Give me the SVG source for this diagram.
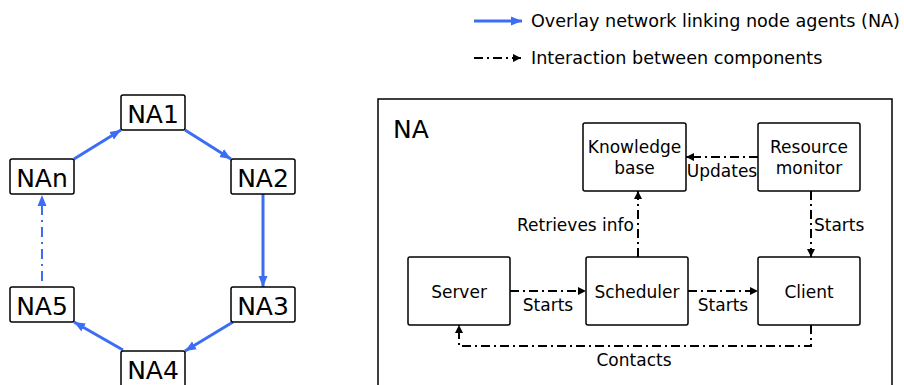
<svg xmlns="http://www.w3.org/2000/svg" width="904" height="385" viewBox="0 0 904 385">
<defs>
<style>
text{font-family:"DejaVu Sans","Liberation Sans",sans-serif;fill:#000}
.ring rect{fill:#fff;stroke:#000;stroke-width:1.5}
.ring text{font-size:25px;text-anchor:middle}
.comp rect{fill:#fff;stroke:#000;stroke-width:1.5}
.comp text{font-size:17px;text-anchor:middle}
.blue{stroke:#3b6ef5;stroke-width:3;fill:none}
.bluedd{stroke:#3b6ef5;stroke-width:2;fill:none;stroke-dasharray:10,5,2,5}
.dd{stroke:#000;stroke-width:2;fill:none;stroke-dasharray:9,4,2,4}
.lbl{font-size:17px}
.leg{font-size:17.6px}
</style>
<marker id="ab" markerUnits="userSpaceOnUse" markerWidth="12" markerHeight="10" refX="11" refY="5" orient="auto"><path d="M0,0.5 L11,5 L0,9.5 z" fill="#3b6ef5"/></marker>
<marker id="ak" markerUnits="userSpaceOnUse" markerWidth="9" markerHeight="8" refX="8" refY="4" orient="auto"><path d="M0,0 L8,4 L0,8 z" fill="#000"/></marker>
</defs>

<g id="legend">
<line class="blue" x1="474" y1="21" x2="522" y2="21" marker-end="url(#ab)"/>
<text class="leg" x="531" y="27">Overlay network linking node agents (NA)</text>
<line class="dd" x1="474" y1="58" x2="521" y2="58" marker-end="url(#ak)"/>
<text class="leg" x="531" y="64">Interaction between components</text>
</g>

<g id="ring-connectors">
<line class="blue" x1="74" y1="159" x2="121" y2="130" marker-end="url(#ab)"/>
<line class="blue" x1="185" y1="130" x2="231" y2="159" marker-end="url(#ab)"/>
<line class="blue" x1="263" y1="194" x2="263" y2="287" marker-end="url(#ab)"/>
<line class="blue" x1="233" y1="322" x2="185" y2="351" marker-end="url(#ab)"/>
<line class="blue" x1="123" y1="350" x2="74" y2="322" marker-end="url(#ab)"/>
<line class="bluedd" x1="42" y1="281" x2="42" y2="195" marker-end="url(#ab)"/>
</g>

<g class="ring">
<g id="NA1"><rect x="121" y="95" width="64" height="35" rx="2"/><text x="153" y="123">NA1</text></g>
<g id="NA2"><rect x="231" y="159" width="64" height="35" rx="2"/><text x="263" y="187">NA2</text></g>
<g id="NAn"><rect x="10" y="159" width="64" height="35" rx="2"/><text x="42" y="187">NAn</text></g>
<g id="NA3"><rect x="231" y="287" width="64" height="35" rx="2"/><text x="263" y="315">NA3</text></g>
<g id="NA5"><rect x="10" y="287" width="64" height="35" rx="2"/><text x="42" y="315">NA5</text></g>
<g id="NA4"><rect x="121" y="351" width="64" height="36" rx="2"/><text x="153" y="379">NA4</text></g>
</g>

<g id="NA-panel">
<rect x="378" y="99" width="514" height="290" fill="#fff" stroke="#000" stroke-width="1.5"/>
<text x="393" y="138" font-size="25">NA</text>
</g>

<g id="connectors">
<line class="dd" x1="758" y1="157" x2="686" y2="157" marker-end="url(#ak)"/>
<text class="lbl" x="722" y="177" text-anchor="middle">Updates</text>
<line class="dd" x1="638" y1="257" x2="638" y2="191" marker-end="url(#ak)"/>
<text class="lbl" x="634" y="231" text-anchor="end">Retrieves info</text>
<line class="dd" x1="811" y1="191" x2="811" y2="257" marker-end="url(#ak)"/>
<text class="lbl" x="814" y="231">Starts</text>
<line class="dd" x1="510" y1="291" x2="586" y2="291" marker-end="url(#ak)"/>
<text class="lbl" x="548" y="311" text-anchor="middle">Starts</text>
<line class="dd" x1="688" y1="291" x2="758" y2="291" marker-end="url(#ak)"/>
<text class="lbl" x="723" y="311" text-anchor="middle">Starts</text>
<polyline class="dd" points="811,325 811,346 459,346 459,325" marker-end="url(#ak)"/>
<text class="lbl" x="634" y="366" text-anchor="middle">Contacts</text>
</g>

<g class="comp">
<g id="knowledge"><rect x="583" y="123" width="103" height="68" rx="2"/><text x="634.5" y="153">Knowledge</text><text x="634.5" y="174">base</text></g>
<g id="resource"><rect x="758" y="123" width="102" height="68" rx="2"/><text x="809" y="153">Resource</text><text x="809" y="174">monitor</text></g>
<g id="server"><rect x="408" y="257" width="102" height="68" rx="2"/><text x="459" y="298">Server</text></g>
<g id="scheduler"><rect x="586" y="257" width="102" height="68" rx="2"/><text x="637" y="298">Scheduler</text></g>
<g id="client"><rect x="758" y="257" width="102" height="68" rx="2"/><text x="809" y="298">Client</text></g>
</g>
</svg>
